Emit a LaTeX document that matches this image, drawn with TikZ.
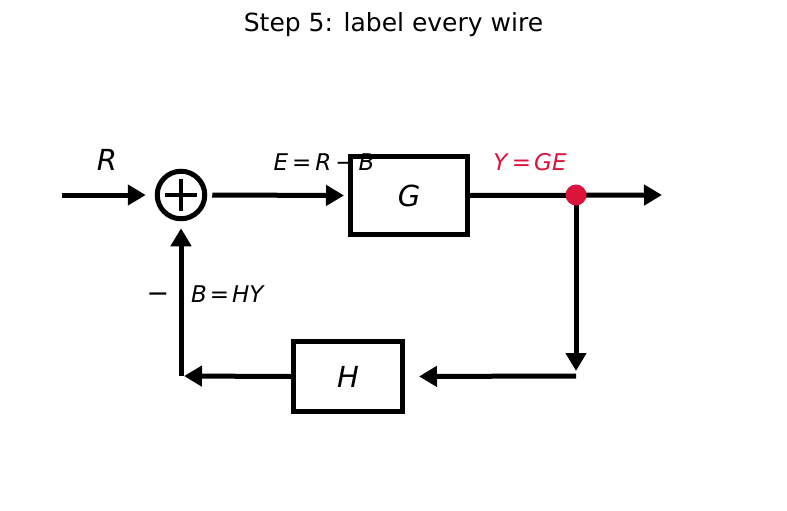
\documentclass[tikz,border=0pt]{standalone}
\usepackage{fontspec}
\setmainfont{DejaVu Sans}
\usetikzlibrary{arrows.meta}
\definecolor{crim}{HTML}{DC143C}
\begin{document}
\begin{tikzpicture}[x=1pt,y=-1pt,
  wire/.style={line width=5pt,-{Triangle[length=18pt,width=20pt]}},
  blk/.style={draw,line width=5pt,inner sep=0pt},
  lbl/.style={inner sep=0pt,font=\fontsize{23}{27}\selectfont},
  big/.style={font=\fontsize{29}{34}\selectfont\itshape}]
\useasboundingbox (0,0) rectangle (787,511);
\node[inner sep=0pt,font=\fontsize{25}{29}\selectfont] (title) at (393.5,25) {Step 5: label every wire};
\coordinate (in) at (62,195);
\node[circle,draw,line width=5pt,minimum size=47.5pt,inner sep=0pt] (sum) at (181,195) {};
\draw[line width=3.5pt] ([xshift=-16pt]sum.center) -- ([xshift=16pt]sum.center);
\draw[line width=3.5pt] ([yshift=-16pt]sum.center) -- ([yshift=16pt]sum.center);
\node[blk,minimum width=117pt,minimum height=78pt,big] (G) at (409,195.5) {G};
\node[blk,minimum width=109pt,minimum height=70pt,big] (H) at (348,376.5) {H};
\coordinate (j) at (576,195);
\coordinate (out) at (662,195);
\coordinate (c1) at (576,376);
\coordinate (c2) at (181,376);
\draw[wire,shorten >=9pt] (in) -- (sum.west);
\draw[wire,shorten <=5pt,shorten >=4pt] (sum.east) -- (G.west);
\draw[wire] (G.east) -- (out);
\draw[wire,shorten >=5pt] (j) -- (c1);
\draw[wire,shorten >=14pt] (c1) -- (H.east);
\draw[wire,shorten >=3pt] (H.west) -- (c2);
\draw[wire,shorten <=2pt,shorten >=7pt] ([yshift=-2pt]c2) -- (sum.south);
\node[fill=crim,circle,minimum size=21pt,inner sep=0pt] (dot) at (j) {};
\node[inner sep=0pt,big] (lR) at (107,160) {R};
\node[lbl] (lE) at (324,162) {\textit{E}\hspace{4pt}=\hspace{4pt}\textit{R}\hspace{4pt}−\hspace{4pt}\textit{B}};
\node[lbl,text=crim] (lY) at (530,162) {\textit{Y}\hspace{3pt}=\hspace{3pt}\textit{GE}};
\node[inner sep=0pt,font=\fontsize{27}{30}\selectfont] (lm) at (158,298) {−};
\node[lbl] (lB) at (228,294) {\textit{B}\hspace{3pt}=\hspace{3pt}\textit{HY}};
\end{tikzpicture}
\end{document}
